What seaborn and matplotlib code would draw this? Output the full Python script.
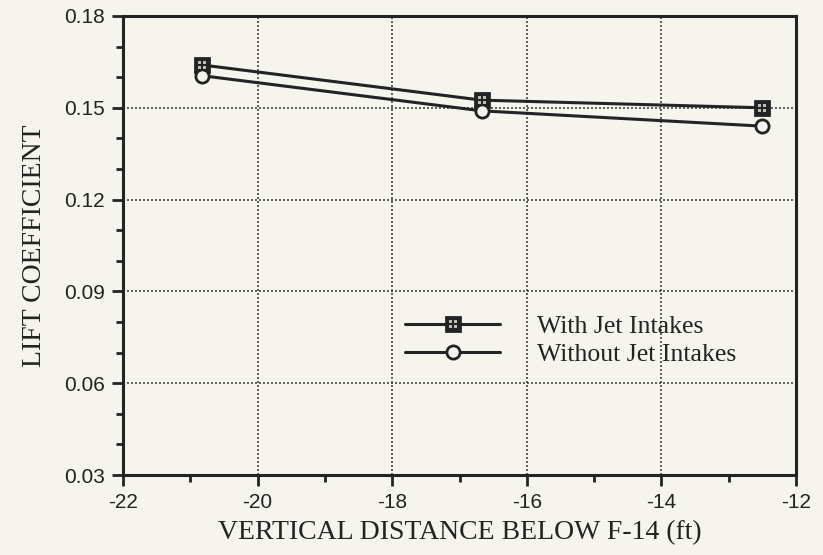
import matplotlib
matplotlib.use("Agg")
import matplotlib.pyplot as plt
from matplotlib.path import Path
from matplotlib.ticker import MultipleLocator, FixedLocator
import seaborn as sns
import pandas as pd

# Lift coefficient vs. vertical distance below the F-14
distance_ft = [-20.83, -16.67, -12.5]
cl_with_intakes = [0.164, 0.1525, 0.150]
cl_without_intakes = [0.1605, 0.149, 0.144]
series_names = ["With Jet Intakes", "Without Jet Intakes"]

x_ticks = [-22, -20, -18, -16, -14, -12]
y_ticks = [0.03, 0.06, 0.09, 0.12, 0.15, 0.18]
x_tick_labels = ["-22", "-20", "-18", "-16", "-14", "-12"]
y_tick_labels = ["0.03", "0.06", "0.09", "0.12", "0.15", "0.18"]

df = pd.DataFrame({
    "distance": distance_ft * 2,
    "cl": cl_with_intakes + cl_without_intakes,
    "series": [series_names[0]] * 3 + [series_names[1]] * 3,
})

paper = "#f5f5ed"
ink = "#232323"

# four small windows that sit inside the filled square marker
def _pane(cx, cy, h=0.32):
    return Path([(cx - h, cy - h), (cx + h, cy - h), (cx + h, cy + h),
                 (cx - h, cy + h), (cx - h, cy - h)], closed=True)

panes = Path.make_compound_path(
    _pane(-0.5, -0.5), _pane(0.5, -0.5), _pane(-0.5, 0.5), _pane(0.5, 0.5)
)

sns.set_theme(style="ticks")
plt.rcParams["font.family"] = ["Liberation Sans", "DejaVu Sans"]

fig = plt.figure(figsize=(8.23, 5.55), dpi=100, facecolor=paper)
ax = fig.add_axes([0.1495, 0.1441, 0.8177, 0.8271])
ax.set_facecolor(paper)

sns.lineplot(
    data=df, x="distance", y="cl", hue="series", style="series",
    hue_order=series_names, style_order=series_names,
    palette=[ink, ink], dashes=False,
    markers={series_names[0]: "s", series_names[1]: "o"},
    markersize=9.5, linewidth=2.2, markeredgewidth=2.0,
    ax=ax, legend=True, zorder=3,
)
for line in ax.lines:
    if line.get_marker() == "o":
        line.set_markerfacecolor(paper)
        line.set_markeredgecolor(ink)
    elif line.get_marker() == "s":
        line.set_markerfacecolor(ink)
        line.set_markeredgecolor(ink)

sns.scatterplot(
    x=distance_ft, y=cl_with_intakes, marker=panes, s=40,
    color="#bdbdb5", linewidth=0, ax=ax, zorder=4, legend=False,
)

ax.set_xlim(-22, -12)
ax.set_ylim(0.03, 0.18)
ax.xaxis.set_major_locator(FixedLocator(x_ticks))
ax.yaxis.set_major_locator(FixedLocator(y_ticks))
ax.set_xticklabels(x_tick_labels)
ax.set_yticklabels(y_tick_labels)
ax.xaxis.set_minor_locator(MultipleLocator(1))
ax.yaxis.set_minor_locator(MultipleLocator(0.01))

ax.tick_params(which="major", direction="out", length=8, width=2.0,
               color=ink, labelsize=15, labelcolor=ink, pad=5)
ax.tick_params(which="minor", direction="out", length=5, width=2.0, color=ink)

for side in ["left", "right", "top", "bottom"]:
    ax.spines[side].set_visible(True)
    ax.spines[side].set_linewidth(2.2)
    ax.spines[side].set_color(ink)

ax.grid(True, which="major", color="#444444", linewidth=1.2,
        linestyle=(0, (1.2, 1.2)), zorder=1)

serif = ["Liberation Serif", "DejaVu Serif"]
ax.set_xlabel("VERTICAL DISTANCE BELOW F-14 (ft)", fontsize=20,
              family=serif, color=ink, labelpad=6)
ax.set_ylabel("LIFT COEFFICIENT", fontsize=20, family=serif,
              color=ink, labelpad=12)

handles, labels = ax.get_legend_handles_labels()
pane_handle = plt.Line2D([], [], marker=panes, color="#bdbdb5",
                         linestyle="none", markersize=6, markeredgewidth=0)
ax.legend(
    handles=[(handles[0], pane_handle), handles[1]], labels=labels,
    loc="upper left", bbox_to_anchor=(0.419, 0.348), frameon=False,
    borderpad=0, borderaxespad=0,
    prop={"family": serif, "size": 18.5}, handlelength=3.7,
    handletextpad=1.45, labelspacing=0.2, labelcolor=ink,
)

fig.savefig("out.png", dpi=100, facecolor=paper)
